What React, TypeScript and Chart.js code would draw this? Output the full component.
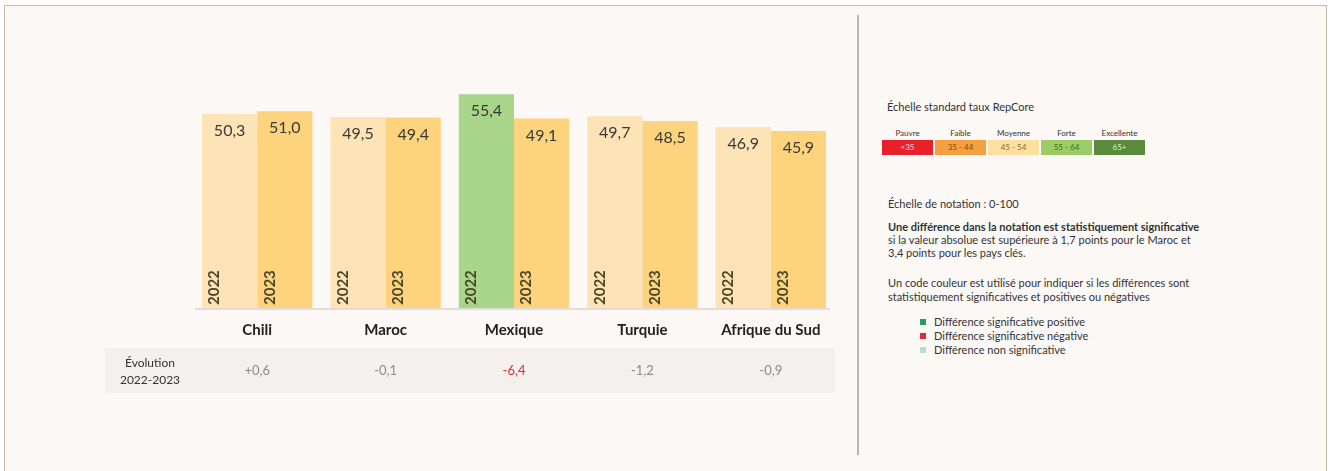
import React, { useEffect, useRef } from "react";
import { Chart, registerables } from "chart.js";

Chart.register(...registerables);

const categories = ["Chili", "Maroc", "Mexique", "Turquie", "Afrique du Sud"];
const years = ["2022", "2023"];
const values2022 = [50.3, 49.5, 55.4, 49.7, 46.9];
const values2023 = [51.0, 49.4, 49.1, 48.5, 45.9];
const evolutionLabels = ["+0,6", "-0,1", "-6,4", "-1,2", "-0,9"];
const evolutionSignificance = ["none", "none", "negative", "none", "none"];

const scaleLabels = ["Pauvre", "Faible", "Moyenne", "Forte", "Excellente"];
const scaleRanges = ["<35", "35 - 44", "45 - 54", "55 - 64", "65+"];
const scaleColors = ["#e8202a", "#f4a040", "#fde0a0", "#9ccc65", "#5a8a3c"];
const scaleTextColors = ["#fde0e0", "#8a4a10", "#8a6a30", "#3e6a20", "#e0f0d0"];

const FONT = "Lato, 'Open Sans', sans-serif";

function barColor(v: number, year: string) {
  if (v >= 55) return "#a9d58b";
  return year === "2022" ? "#fde3b6" : "#fdd37e";
}

const labelPlugin = {
  id: "labelPlugin",
  afterDatasetsDraw(chart: any) {
    const ctx = chart.ctx;
    const area = chart.chartArea;
    const xs = chart.scales.x;
    ctx.save();
    // baseline
    ctx.strokeStyle = "#e2ddd8";
    ctx.lineWidth = 2;
    ctx.beginPath();
    ctx.moveTo(area.left + 2, area.bottom + 1);
    ctx.lineTo(area.right - 5, area.bottom + 1);
    ctx.stroke();

    chart.data.datasets.forEach((ds: any, di: number) => {
      const meta = chart.getDatasetMeta(di);
      meta.data.forEach((el: any, i: number) => {
        const v = ds.data[i];
        ctx.fillStyle = "#3a3a36";
        ctx.font = `16px ${FONT}`;
        ctx.textAlign = "center";
        ctx.textBaseline = "middle";
        ctx.fillText(v.toFixed(1).replace(".", ","), el.x, el.y + 17);
        ctx.save();
        ctx.translate(el.x - 15, el.base - 3);
        ctx.rotate(-Math.PI / 2);
        ctx.font = `bold 15px ${FONT}`;
        ctx.fillStyle = "#4a4628";
        ctx.textAlign = "left";
        ctx.textBaseline = "middle";
        ctx.fillText(ds.label, 0, 0);
        ctx.restore();
      });
    });

    // category labels
    ctx.fillStyle = "#222222";
    ctx.font = `bold 15px ${FONT}`;
    ctx.textAlign = "center";
    ctx.textBaseline = "middle";
    categories.forEach((c, i) => {
      ctx.fillText(c, xs.getPixelForValue(i), area.bottom + 22);
    });

    // evolution band
    ctx.fillStyle = "#f3f0ed";
    ctx.fillRect(0, area.bottom + 40, area.right, 45);
    ctx.fillStyle = "#333333";
    ctx.font = `12px ${FONT}`;
    ctx.fillText("Évolution", 45, area.bottom + 55);
    ctx.fillText("2022-2023", 45, area.bottom + 72);
    ctx.font = `13px ${FONT}`;
    evolutionLabels.forEach((t, i) => {
      const sig = evolutionSignificance[i];
      ctx.fillStyle = sig === "negative" ? "#e3283c" : sig === "positive" ? "#1e9e5a" : "#8c8c8c";
      ctx.fillText(t, xs.getPixelForValue(i), area.bottom + 63);
    });
    ctx.restore();
  },
};

export default function App() {
  const canvasRef = useRef<HTMLCanvasElement | null>(null);

  useEffect(() => {
    document.body.style.margin = "0";
    const canvas = canvasRef.current;
    if (!canvas) return;
    const chart = new Chart(canvas, {
      type: "bar",
      data: {
        labels: categories,
        datasets: [
          {
            label: years[0],
            data: values2022,
            backgroundColor: values2022.map((v) => barColor(v, "2022")),
            categoryPercentage: 0.86,
            barPercentage: 1,
          },
          {
            label: years[1],
            data: values2023,
            backgroundColor: values2023.map((v) => barColor(v, "2023")),
            categoryPercentage: 0.86,
            barPercentage: 1,
          },
        ],
      },
      options: {
        animation: false,
        responsive: false,
        maintainAspectRatio: false,
        layout: { padding: { left: 88, right: 0, top: 18, bottom: 92 } },
        plugins: { legend: { display: false }, tooltip: { enabled: false } },
        scales: {
          x: { display: false },
          y: { display: false, min: 0, max: 70 },
        },
      },
      plugins: [labelPlugin],
    });
    return () => chart.destroy();
  }, []);

  const txt: React.CSSProperties = { position: "absolute", fontFamily: FONT, color: "#333", fontSize: 11, whiteSpace: "nowrap" };

  return (
    <div style={{ position: "relative", width: 1331, height: 471, background: "#ffffff", overflow: "hidden" }}>
      <div
        style={{
          position: "absolute",
          left: 4,
          top: 5,
          width: 1321,
          height: 480,
          border: "1.5px solid #c6baa6",
          background: "#fcf8f6",
        }}
      />
      <div style={{ position: "absolute", left: 105, top: 20, width: 730, height: 380 }}>
        <canvas ref={canvasRef} width={730} height={380} style={{ width: 730, height: 380 }} />
      </div>
      <div style={{ position: "absolute", left: 857, top: 15, width: 1.5, height: 440, background: "#b8b4b0" }} />

      <div style={{ ...txt, left: 887, top: 100 }}>Échelle standard taux RepCore</div>
      {scaleLabels.map((l, i) => (
        <div key={l} style={{ ...txt, left: 882 + i * 53, top: 128, width: 51, textAlign: "center", fontSize: 8 }}>
          {l}
        </div>
      ))}
      {scaleRanges.map((r, i) => (
        <div
          key={r}
          style={{
            position: "absolute",
            left: 882 + i * 53,
            top: 140,
            width: 51,
            height: 15,
            background: scaleColors[i],
            color: scaleTextColors[i],
            fontFamily: FONT,
            fontSize: 8,
            lineHeight: "15px",
            textAlign: "center",
          }}
        >
          {r}
        </div>
      ))}

      <div style={{ ...txt, left: 888, top: 197 }}>Échelle de notation : 0-100</div>
      <div style={{ ...txt, whiteSpace: "normal", left: 888, top: 220, width: 318, lineHeight: "13px" }}>
        <b>Une différence dans la notation est statistiquement significative</b> si la valeur absolue est supérieure à 1,7 points pour le Maroc et 3,4 points pour les pays clés.
      </div>
      <div style={{ ...txt, whiteSpace: "normal", left: 888, top: 276, width: 318, lineHeight: "14px" }}>
        Un code couleur est utilisé pour indiquer si les différences sont statistiquement significatives et positives ou négatives
      </div>
      {[
        ["#1e9e5a", "Différence significative positive"],
        ["#e3283c", "Différence significative négative"],
        ["#b8dcd4", "Différence non significative"],
      ].map(([c, t], i) => (
        <React.Fragment key={t}>
          <div style={{ position: "absolute", left: 920, top: 319 + i * 14, width: 6, height: 6, background: c }} />
          <div style={{ ...txt, left: 934, top: 315 + i * 14, fontSize: 11 }}>{t}</div>
        </React.Fragment>
      ))}
    </div>
  );
}
